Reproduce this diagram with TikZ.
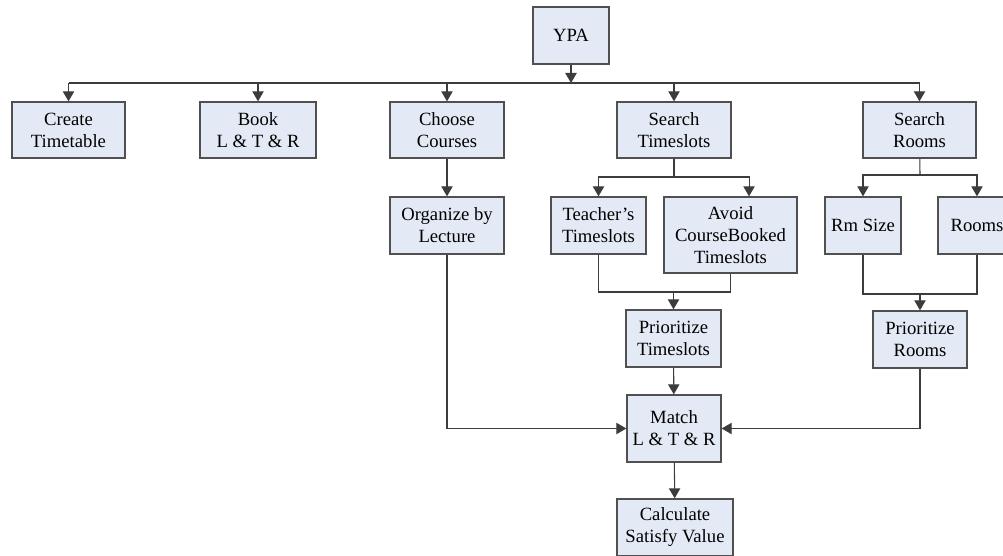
\documentclass[tikz,border=0pt]{standalone}
\usepackage{fontspec}
\setmainfont{Liberation Serif}
\usetikzlibrary{arrows.meta}
\definecolor{boxfill}{RGB}{228,234,245}
\definecolor{boxline}{RGB}{80,80,80}
\definecolor{wire}{RGB}{60,60,60}

\begin{document}
\begin{tikzpicture}[x=0.75pt,y=-0.75pt,
    box/.style={draw=boxline,fill=boxfill,line width=1pt,align=center,inner sep=0pt,
        font=\fontsize{14}{16.5}\selectfont},
    wd/.style={minimum width=#1*0.75pt},
    ht/.style={minimum height=#1*0.75pt},
    line/.style={draw=wire,line width=0.8pt},
    arr/.style={line,-{Triangle[width=8.5pt,length=7.5pt]}}
]
    \useasboundingbox (0,0) rectangle (1003,556);

    \node[box,wd=76,ht=57] (ypa) at (571,35.5) {YPA};

    \node[box,wd=113,ht=56] (create) at (68.5,130) {Create\\Timetable};
    \node[box,wd=116,ht=56] (book) at (258,130) {Book\\L \& T \& R};
    \node[box,wd=114,ht=56] (choose) at (447,130) {Choose\\Courses};
    \node[box,wd=114,ht=56] (srchT) at (674,130) {Search\\Timeslots};
    \node[box,wd=113,ht=56] (srchR) at (919.5,130) {Search\\Rooms};

    \node[box,wd=114,ht=57] (organize) at (447,225.5) {Organize by\\Lecture};
    \node[box,wd=95,ht=57] (teach) at (598.5,225.5) {Teacher's\\Timeslots};
    \node[box,wd=133,ht=76] (avoid) at (730.5,235) {Avoid\\CourseBooked\\Timeslots};
    \node[box,wd=76,ht=57] (rmsize) at (863,225.5) {Rm Size};
    \node[box,wd=78,ht=57] (rooms) at (977,225.5) {Rooms};

    \node[box,wd=95,ht=57] (prioT) at (673.5,338.5) {Prioritize\\Timeslots};
    \node[box,wd=94,ht=57] (prioR) at (920,339.5) {Prioritize\\Rooms};

    \node[box,wd=94,ht=67] (match) at (674,428.5) {Match\\L \& T \& R};
    \node[box,wd=116,ht=57] (calc) at (675,527.5) {Calculate\\Satisfy Value};

    \coordinate (bus) at (571,83);
    \coordinate (tbus) at (674,177);
    \coordinate (rbus) at (920,175);
    \coordinate (tjoin) at (673.5,292);
    \coordinate (rjoin) at (920,294);

    \draw[arr] (ypa) -- (bus);
    \draw[line] (create.north |- bus) -- (srchR.north |- bus);
    \foreach \n in {create,book,choose,srchT,srchR}
        \draw[arr] (\n.north |- bus) -- (\n.north);

    \draw[arr] (choose) -- (organize);
    \draw[line] (srchT) -- (tbus);
    \draw[arr] (tbus) -| (teach.north);
    \draw[arr] (tbus) -| ([xshift=13.9pt]avoid.north);
    \draw[line] (srchR) -- (rbus);
    \draw[arr] (rbus) -| (rmsize.north);
    \draw[arr] (rbus) -| (rooms.north);

    \draw[line] (teach.south) |- (tjoin) -| (avoid.south);
    \draw[arr] (tjoin) -- (prioT);
    \draw[line] (rmsize.south) |- (rjoin) -| (rooms.south);
    \draw[arr] (rjoin) -- (prioR);

    \draw[arr] (organize) |- (match);
    \draw[arr] (prioR) |- (match);
    \draw[arr] (prioT) -- (match);
    \draw[arr] (match) -- (calc);

\end{tikzpicture}
\end{document}
